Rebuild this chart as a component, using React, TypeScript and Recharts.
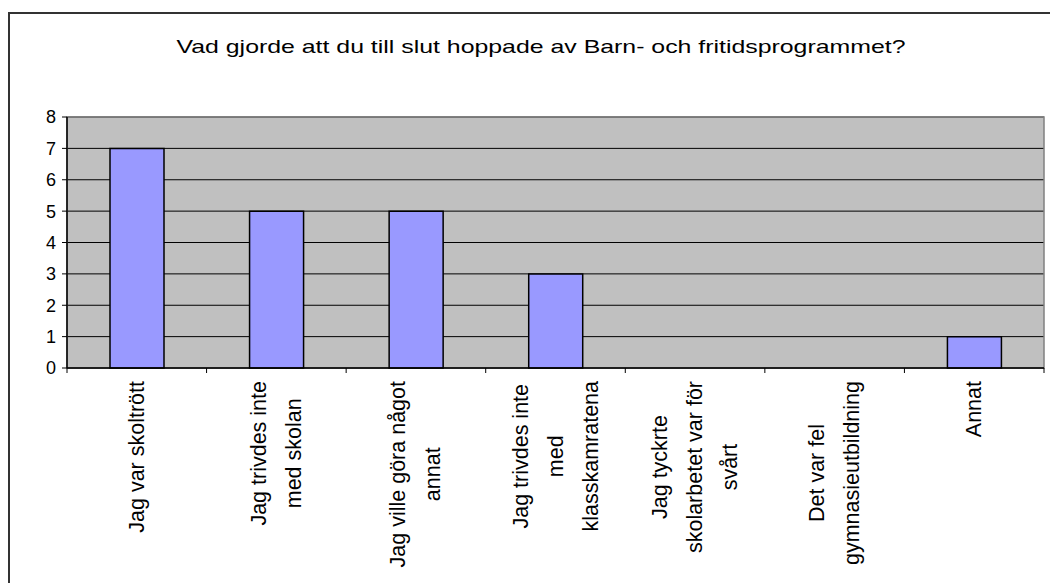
import React from 'react';
import { BarChart, Bar, XAxis, YAxis, CartesianGrid, ReferenceArea } from 'recharts';

const title = 'Vad gjorde att du till slut hoppade av Barn- och fritidsprogrammet?';
const categories = [
  'Jag var skoltrött',
  'Jag trivdes inte\nmed skolan',
  'Jag ville göra något\nannat',
  'Jag trivdes inte\nmed\nklasskamratena',
  'Jag tyckrte\nskolarbetet var för\nsvårt',
  'Det var fel\ngymnasieutbildning',
  'Annat',
];
const counts = [7, 5, 5, 3, 0, 0, 1];
const yTicks = [0, 1, 2, 3, 4, 5, 6, 7, 8];

const data = categories.map((name, i) => ({ name, value: counts[i] }));

const FONT = '"Liberation Sans", Arial, sans-serif';
const LABEL_SIZE = 21.5;
const LINE_GAP = 35;

let ctx: CanvasRenderingContext2D | null = null;
function textWidth(s: string) {
  if (!ctx) ctx = document.createElement('canvas').getContext('2d');
  ctx!.font = `${LABEL_SIZE}px "Liberation Sans"`;
  return ctx!.measureText(s).width;
}

function XTick(props: any) {
  const { x, y, payload, index } = props;
  const half = payload.offset ?? 69.8;
  const lines = String(payload.value).split('\n');
  const longest = Math.max(...lines.map(textWidth));
  const cy = y + 13 + longest / 2;
  const n = lines.length;
  return (
    <g>
      <line x1={x - half} y1={y} x2={x - half} y2={y + 5} stroke="#000" />
      {index === categories.length - 1 && (
        <line x1={x + half} y1={y} x2={x + half} y2={y + 5} stroke="#000" />
      )}
      <g transform={`translate(${x},${cy}) rotate(-90)`}>
        {lines.map((l, i) => (
          <text
            key={i}
            x={0}
            y={(i - (n - 1) / 2) * LINE_GAP}
            textAnchor="middle"
            dominantBaseline="central"
            fontFamily={FONT}
            fontSize={LABEL_SIZE}
            fill="#000"
          >
            {l}
          </text>
        ))}
      </g>
    </g>
  );
}

export default function App() {
  return (
    <div style={{ position: 'relative', width: 1050, height: 583, overflow: 'hidden', background: '#fff' }}>
      <style>{'body{margin:0}'}</style>
      <div
        style={{
          position: 'absolute',
          left: 8,
          top: 12,
          width: 1200,
          height: 800,
          border: '2px solid #333',
        }}
      />
      <svg width={1050} height={80} style={{ position: 'absolute', left: 0, top: 0 }}>
        <text
          x={541}
          y={53}
          textAnchor="middle"
          fontFamily={FONT}
          fontSize={19}
          textLength={729}
          lengthAdjust="spacingAndGlyphs"
          fill="#000"
        >
          {title}
        </text>
      </svg>
      <div style={{ position: 'absolute', left: 0, top: 0 }}>
        <BarChart
          width={1050}
          height={583}
          data={data}
          margin={{ top: 117, right: 6, left: 0, bottom: 0 }}
          barSize={54}
        >
          <CartesianGrid vertical={false} fill="#C0C0C0" stroke="#000" strokeOpacity={1} />
          <ReferenceArea y1={0} y2={8} fill="none" stroke="#808080" strokeWidth={1.5} ifOverflow="visible" />
          <XAxis
            dataKey="name"
            interval={0}
            height={215}
            tickSize={0}
            tickMargin={0}
            tickLine={false}
            axisLine={{ stroke: '#000', strokeWidth: 1.5 }}
            tick={<XTick />}
          />
          <YAxis
            domain={[0, 8]}
            ticks={yTicks}
            interval={0}
            width={67}
            tickSize={5}
            tickMargin={6}
            axisLine={{ stroke: '#000', strokeWidth: 1.5 }}
            tickLine={{ stroke: '#000' }}
            tick={{ fill: '#000', fontSize: 18, fontFamily: FONT }}
          />
          <Bar dataKey="value" fill="#9999FF" stroke="#000" strokeWidth={1.5} isAnimationActive={false} />
        </BarChart>
      </div>
    </div>
  );
}
